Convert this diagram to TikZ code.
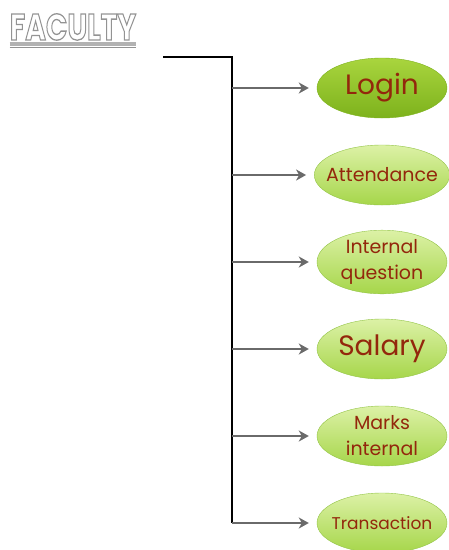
\documentclass[tikz,border=0pt]{standalone}
\usepackage{fontspec}
\setmainfont{Poppins}
\usepackage{xcolor}
\usepackage{tikz}
\usetikzlibrary{shapes.geometric, arrows.meta, positioning}
\definecolor{itemtop}{HTML}{DCF1A6}
\definecolor{itembottom}{HTML}{A6D64A}
\definecolor{itemborder}{HTML}{93C447}
\definecolor{logintop}{HTML}{A9D53E}
\definecolor{loginbottom}{HTML}{7DB21C}
\definecolor{itemtext}{HTML}{93270C}
\definecolor{arrowgray}{HTML}{6A6A6A}
\tikzstyle{item} = [ellipse, draw=itemborder, top color=itemtop, bottom color=itembottom, text=itemtext, minimum width=130pt, minimum height=60pt, inner xsep=-8pt, inner ysep=0pt, align=center, font=\fontsize{19}{26}\selectfont]
\tikzstyle{arrow} = [line width=2.4pt, draw=arrowgray, -{Stealth[length=10pt,width=11pt,inset=3pt]}, shorten >=8pt]
\tikzstyle{trunk} = [line width=2pt, black]
\tikzstyle{heading} = [text=gray!85, font=\fontsize{37}{37}\selectfont\bfseries, inner sep=0pt]

\begin{document}
\begin{tikzpicture}[x=1pt, y=-1pt, node distance=87pt]
    \useasboundingbox (0,0) rectangle (449,550);
    \node (title) at (73,27) [heading] {\special{pdf:literal direct 1 Tr 1.3 w}\scalebox{0.76}[1]{FACULTY}\special{pdf:literal direct 0 Tr}};
    \draw [line width=4pt, gray!60] ([yshift=-4pt]title.south west) -- ([yshift=-4pt]title.south east);
    \draw [line width=1.2pt, gray!85] ([yshift=-7pt]title.south west) -- ([yshift=-7pt]title.south east);

    \node (login) at (382,88) [item, top color=logintop, bottom color=loginbottom, draw=loginbottom, font=\fontsize{28}{30}\selectfont] {Login};
    \node (attendance) [item, below of=login] {Attendance};
    \node (question) [item, below of=attendance] {Internal\\question};
    \node (salary) [item, below of=question, font=\fontsize{28}{30}\selectfont] {Salary};
    \node (marks) [item, below of=salary] {Marks\\internal};
    \node (transaction) [item, below of=marks, font=\fontsize{17}{20}\selectfont] {Transaction};

    \coordinate (start) at (163,57);
    \coordinate (bend) at (232,57);
    \draw [trunk] (start) -- (bend) -- (bend |- transaction);
    \foreach \n in {login, attendance, question, salary, marks, transaction}
        \draw [arrow] (bend |- \n) -- (\n);
\end{tikzpicture}
\end{document}
